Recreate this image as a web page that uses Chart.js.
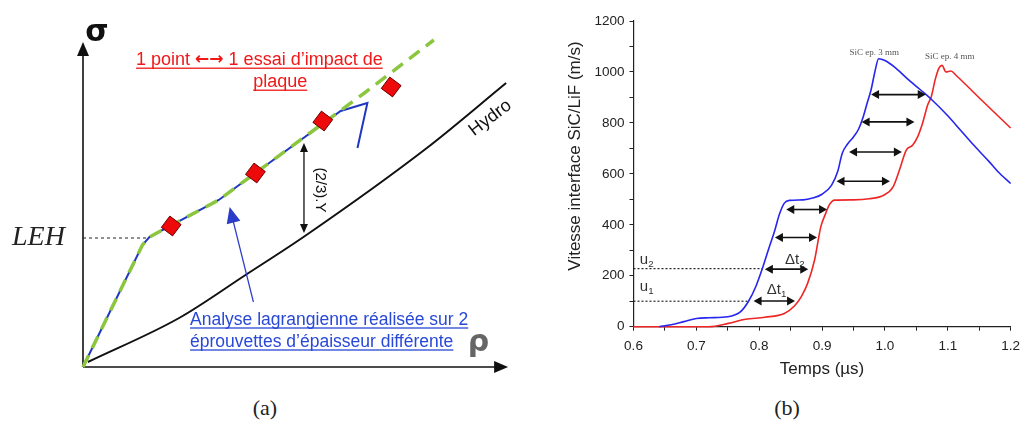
<!DOCTYPE html>
<html>
<head>
<meta charset="utf-8">
<script src="https://cdn.jsdelivr.net/npm/chart.js@4.4.1/dist/chart.umd.min.js"></script>
<style>
  body { margin: 0; background: #fff; width: 1027px; height: 426px; position: relative; overflow: hidden; }
  #left { position: absolute; left: 0; top: 0; }
  #right { position: absolute; left: 560px; top: 0; }
  .cap { position: absolute; top: 395px; width: 80px; text-align: center; line-height: 26px;
         font-family: "Liberation Serif", "DejaVu Serif", serif; font-size: 22px; color: #222; }
</style>
</head>
<body>
<canvas id="left" width="530" height="390"></canvas>
<canvas id="right" width="467" height="390"></canvas>
<div class="cap" style="left:225px">(a)</div>
<div class="cap" style="left:747px">(b)</div>
<script>
// ---- (a) schéma sigma / rho (unités arbitraires)
const hydroX = [5, 97, 164, 224, 347, 427];
const hydroY = [5, 49, 92, 131, 219, 284];
const lagrX = [0, 60, 67, 137, 174, 260, 287, 277];
const lagrY = [0, 122, 130, 167, 194, 256, 264, 219];
const fitX = [0, 60, 67, 137, 174, 284, 354];
const fitY = [0, 122, 130, 167, 194, 274, 327];
const essaiX = [89, 174, 242, 311];
const essaiY = [141, 194, 246, 280];
const lehX = [0, 65];
const lehY = [129, 129];
const axisTip = { x: 429, y: 325 };
const yArrow = { x: 223, y1: 224, y2: 134 };
const blueArrow = { x1: 172, y1: 65, x2: 148, y2: 160 };

// ---- (b) vitesse interface SiC/LiF
const blueT = [0.641, 0.66, 0.68, 0.70, 0.72, 0.75, 0.77, 0.783, 0.795, 0.805, 0.815, 0.825, 0.832, 0.84, 0.848,
  0.87, 0.885, 0.9, 0.915, 0.925, 0.932, 0.94, 0.95, 0.958, 0.965, 0.972, 0.978, 0.984, 0.99, 1.0,
  1.015, 1.035, 1.055, 1.075, 1.1, 1.12, 1.14, 1.165, 1.18, 1.2];
const blueV = [0, 8, 20, 32, 35, 39, 58, 100, 160, 228, 305, 380, 440, 485, 496,
  498, 505, 520, 555, 610, 680, 715, 745, 775, 820, 880, 930, 1000, 1052, 1045,
  1020, 975, 933, 890, 828, 772, 716, 650, 608, 562];
const redT = [0.6, 0.72, 0.751, 0.778, 0.809, 0.84, 0.856, 0.867, 0.877, 0.888, 0.898, 0.905, 0.912, 0.92,
  0.95, 0.975, 0.998, 1.013, 1.023, 1.034, 1.044, 1.052, 1.06, 1.068, 1.074, 1.08, 1.086, 1.091,
  1.097, 1.105, 1.113, 1.154, 1.2];
const redV = [0, 0, 13, 29, 37, 52, 81, 118, 170, 261, 392, 440, 480, 497,
  498, 502, 516, 549, 614, 693, 712, 745, 800, 870, 905, 970, 1015, 1026,
  1000, 1004, 987, 889, 780];
const dtV = [460, 350, 226, 101, 571, 686, 804, 911];
const dtStart = [0.843, 0.825, 0.809, 0.791, 0.923, 0.943, 0.963, 0.978];
const dtEnd = [0.908, 0.892, 0.878, 0.857, 1.008, 1.027, 1.047, 1.065];
const uLevel = [228, 100];
const uEnd = [0.805, 0.783];

const pts = (xs, ys) => xs.map((x, i) => ({ x: x, y: ys[i] }));

function head(ctx, x, y, dx, dy, len, half) {
  const n = Math.hypot(dx, dy); dx /= n; dy /= n;
  ctx.beginPath();
  ctx.moveTo(x, y);
  ctx.lineTo(x - dx * len - dy * half, y - dy * len + dx * half);
  ctx.lineTo(x - dx * len + dy * half, y - dy * len - dx * half);
  ctx.closePath();
  ctx.fill();
}

// texte souligné fait de morceaux [texte, police]
function underlined(ctx, parts, x, y, size, align) {
  const widths = parts.map(p => { ctx.font = p[1]; return ctx.measureText(p[0]).width; });
  const w = widths.reduce((a, b) => a + b, 0);
  let cx = align === 'center' ? x - w / 2 : x;
  const x0 = cx;
  ctx.textAlign = 'left';
  parts.forEach((p, i) => { ctx.font = p[1]; ctx.fillText(p[0], cx, y); cx += widths[i]; });
  ctx.fillRect(x0, y + size * 0.42, w, 1.3);
}

const sansFont = '"Liberation Sans", Arial, sans-serif';

const schemaPlugin = {
  id: 'schema',
  beforeDatasetsDraw(chart) {
    const { ctx, scales: { x, y } } = chart;
    const ox = x.getPixelForValue(0), oy = y.getPixelForValue(0);
    const tx = x.getPixelForValue(axisTip.x), ty = y.getPixelForValue(axisTip.y);
    ctx.save();
    ctx.strokeStyle = '#111'; ctx.fillStyle = '#111'; ctx.lineWidth = 1.6;
    ctx.beginPath(); ctx.moveTo(ox, oy); ctx.lineTo(tx - 8, oy); ctx.stroke();
    ctx.beginPath(); ctx.moveTo(ox, oy); ctx.lineTo(ox, ty + 8); ctx.stroke();
    head(ctx, tx, oy, 1, 0, 14, 6);
    head(ctx, ox, ty, 0, -1, 14, 6);
    ctx.restore();
  },
  afterDatasetsDraw(chart) {
    const { ctx, scales: { x, y } } = chart;
    ctx.save();
    // (2/3).Y double flèche
    const ax = x.getPixelForValue(yArrow.x);
    const a1 = y.getPixelForValue(yArrow.y1), a2 = y.getPixelForValue(yArrow.y2);
    ctx.strokeStyle = '#111'; ctx.fillStyle = '#111'; ctx.lineWidth = 1.3;
    ctx.beginPath(); ctx.moveTo(ax, a1 + 6); ctx.lineTo(ax, a2 - 6); ctx.stroke();
    head(ctx, ax, a1, 0, -1, 9, 4);
    head(ctx, ax, a2, 0, 1, 9, 4);
    // flèche bleue
    const bx1 = x.getPixelForValue(blueArrow.x1), by1 = y.getPixelForValue(blueArrow.y1);
    const bx2 = x.getPixelForValue(blueArrow.x2), by2 = y.getPixelForValue(blueArrow.y2);
    ctx.strokeStyle = '#2a3cc8'; ctx.fillStyle = '#2a3cc8'; ctx.lineWidth = 1.2;
    ctx.beginPath(); ctx.moveTo(bx1, by1); ctx.lineTo(bx2 + (bx1 - bx2) * 0.1, by2 + (by1 - by2) * 0.1); ctx.stroke();
    head(ctx, bx2, by2, bx2 - bx1, by2 - by1, 16, 7);

    ctx.textBaseline = 'middle';
    // axes
    ctx.fillStyle = '#111'; ctx.textAlign = 'center';
    ctx.font = 'bold 30px "DejaVu Sans", sans-serif';
    ctx.fillText('σ', x.getPixelForValue(14), y.getPixelForValue(334));
    ctx.fillStyle = '#666';
    ctx.font = 'bold 30px "DejaVu Sans", sans-serif';
    ctx.fillText('ρ', x.getPixelForValue(399), y.getPixelForValue(24));
    ctx.fillStyle = '#222';
    ctx.font = 'italic 28px "Liberation Serif", serif';
    ctx.fillText('LEH', x.getPixelForValue(-45), y.getPixelForValue(129));
    // Hydro
    ctx.save();
    ctx.translate(x.getPixelForValue(411), y.getPixelForValue(249));
    ctx.rotate(-37 * Math.PI / 180);
    ctx.font = '18px ' + sansFont; ctx.fillStyle = '#111';
    ctx.fillText('Hydro', 0, 0);
    ctx.restore();
    // (2/3).Y
    ctx.save();
    ctx.translate(x.getPixelForValue(239), y.getPixelForValue(177));
    ctx.rotate(Math.PI / 2);
    ctx.font = '15px ' + sansFont; ctx.fillStyle = '#111';
    ctx.fillText('(2/3).Y', 0, 0);
    ctx.restore();
    // texte rouge
    ctx.fillStyle = '#f01818';
    const f18 = '18px ' + sansFont;
    underlined(ctx, [['1 point ', f18], ['\u2190\u2192', 'bold 17px "DejaVu Sans", sans-serif'], [' 1 essai d\u2019impact de', f18]],
      x.getPixelForValue(178), y.getPixelForValue(307), 18, 'center');
    underlined(ctx, [['plaque', f18]], x.getPixelForValue(199), y.getPixelForValue(285), 18, 'center');
    // texte bleu
    ctx.fillStyle = '#2848d8';
    const f17 = '17.5px ' + sansFont;
    underlined(ctx, [['Analyse lagrangienne réalisée sur 2', f17]], x.getPixelForValue(108), y.getPixelForValue(47), 17.5, 'left');
    underlined(ctx, [['éprouvettes d\u2019épaisseur différente', f17]], x.getPixelForValue(108), y.getPixelForValue(25), 17.5, 'left');
    ctx.restore();
  }
};

new Chart(document.getElementById('left'), {
  type: 'line',
  data: {
    datasets: [
      { data: pts(essaiX, essaiY), showLine: false, pointStyle: 'rectRot', pointRadius: 10, pointRotation: -8,
        pointBackgroundColor: '#ee0a0a', pointBorderColor: '#6a0000', pointBorderWidth: 1, order: 0 },
      { data: pts(fitX, fitY), borderColor: '#8cc63f', borderWidth: 3.5, borderDash: [13, 8], pointRadius: 0, order: 1 },
      { data: pts(lagrX, lagrY), borderColor: '#2038c0', borderWidth: 2, pointRadius: 0, order: 2 },
      { data: pts(hydroX, hydroY), borderColor: '#111', borderWidth: 2, pointRadius: 0, cubicInterpolationMode: 'monotone', order: 3 },
      { data: pts(lehX, lehY), borderColor: '#222', borderWidth: 1, borderDash: [3, 3], pointRadius: 0, order: 4 }
    ]
  },
  options: {
    responsive: false,
    animation: false,
    layout: { padding: { left: 83, top: 27, right: 7, bottom: 23 } },
    datasets: { line: { clip: false, fill: false } },
    scales: {
      x: { type: 'linear', min: 0, max: 440, display: false },
      y: { type: 'linear', min: 0, max: 340, display: false }
    },
    plugins: { legend: { display: false }, tooltip: { enabled: false } }
  },
  plugins: [schemaPlugin]
});

const vitessePlugin = {
  id: 'vitesse',
  afterDatasetsDraw(chart) {
    const { ctx, scales: { x, y } } = chart;
    ctx.save();
    ctx.strokeStyle = '#111'; ctx.fillStyle = '#111'; ctx.lineWidth = 1.6;
    dtV.forEach((v, i) => {
      const py = y.getPixelForValue(v);
      const p1 = x.getPixelForValue(dtStart[i]), p2 = x.getPixelForValue(dtEnd[i]);
      ctx.beginPath(); ctx.moveTo(p1 + 5, py); ctx.lineTo(p2 - 5, py); ctx.stroke();
      head(ctx, p1, py, -1, 0, 8, 4.5);
      head(ctx, p2, py, 1, 0, 8, 4.5);
    });
    ctx.textBaseline = 'middle'; ctx.textAlign = 'left';
    const sub = (base, s, t, v, size) => {
      const px = x.getPixelForValue(t), py = y.getPixelForValue(v);
      ctx.font = size + 'px ' + sansFont;
      ctx.fillText(base, px, py);
      const w = ctx.measureText(base).width;
      ctx.font = (size * 0.65) + 'px ' + sansFont;
      ctx.fillText(s, px + w, py + size * 0.3);
    };
    ctx.fillStyle = '#333';
    sub('u', '2', 0.610, 262, 15);
    sub('u', '1', 0.610, 155, 15);
    sub('\u0394t', '2', 0.841, 262, 15);
    sub('\u0394t', '1', 0.812, 144, 15);
    ctx.textAlign = 'center';
    ctx.fillStyle = '#555';
    ctx.font = '9px "Liberation Serif", serif';
    ctx.fillText('SiC ep. 3 mm', x.getPixelForValue(0.983), y.getPixelForValue(1075));
    ctx.fillText('SiC ep. 4 mm', x.getPixelForValue(1.103), y.getPixelForValue(1061));
    // titre vertical
    ctx.fillStyle = '#222';
    ctx.font = '17px ' + sansFont;
    ctx.translate(15, 156);
    ctx.rotate(-Math.PI / 2);
    ctx.fillText('Vitesse interface SiC/LiF (m/s)', 0, 0);
    ctx.restore();
  }
};

const dotted = (xs, ys) => ({ data: pts(xs, ys), borderColor: '#222', borderWidth: 1.2, borderDash: [2, 2], pointRadius: 0 });

new Chart(document.getElementById('right'), {
  type: 'line',
  data: {
    datasets: [
      { data: pts(blueT, blueV), borderColor: '#2626ee', borderWidth: 1.6, pointRadius: 0, cubicInterpolationMode: 'monotone' },
      { data: pts(redT, redV), borderColor: '#ee2626', borderWidth: 1.6, pointRadius: 0, cubicInterpolationMode: 'monotone' },
      dotted([0.6, uEnd[0]], [uLevel[0], uLevel[0]]),
      dotted([0.6, uEnd[1]], [uLevel[1], uLevel[1]])
    ]
  },
  options: {
    responsive: false,
    animation: false,
    layout: { padding: { left: 0, top: 21, right: 11, bottom: 0 } },
    datasets: { line: { clip: false, fill: false } },
    scales: {
      x: {
        type: 'linear', min: 0.6, max: 1.2,
        afterFit(scale) { scale.height = 63.3; },
        ticks: {
          stepSize: 0.05, padding: 7, color: '#222', maxRotation: 0, autoSkip: false,
          font: { family: sansFont, size: 13.5 },
          callback: v => (Math.round(v * 100) % 10 === 0 ? v.toFixed(1) : '')
        },
        grid: { drawOnChartArea: false, tickLength: 4, tickColor: '#222' },
        border: { color: '#222', width: 1.2 },
        title: { display: true, text: 'Temps (µs)', color: '#222', font: { family: sansFont, size: 17 }, padding: { top: 0, bottom: 10 } }
      },
      y: {
        type: 'linear', min: 0, max: 1200,
        afterFit(scale) { scale.width = 73.5; },
        ticks: {
          stepSize: 100, padding: 5, color: '#222', autoSkip: false,
          font: { family: sansFont, size: 13.5 },
          callback: v => (v % 200 === 0 ? String(v) : '')
        },
        grid: { drawOnChartArea: false, tickLength: 4, tickColor: '#222' },
        border: { color: '#222', width: 1.2 }
      }
    },
    plugins: { legend: { display: false }, tooltip: { enabled: false } }
  },
  plugins: [vitessePlugin]
});
</script>
</body>
</html>
